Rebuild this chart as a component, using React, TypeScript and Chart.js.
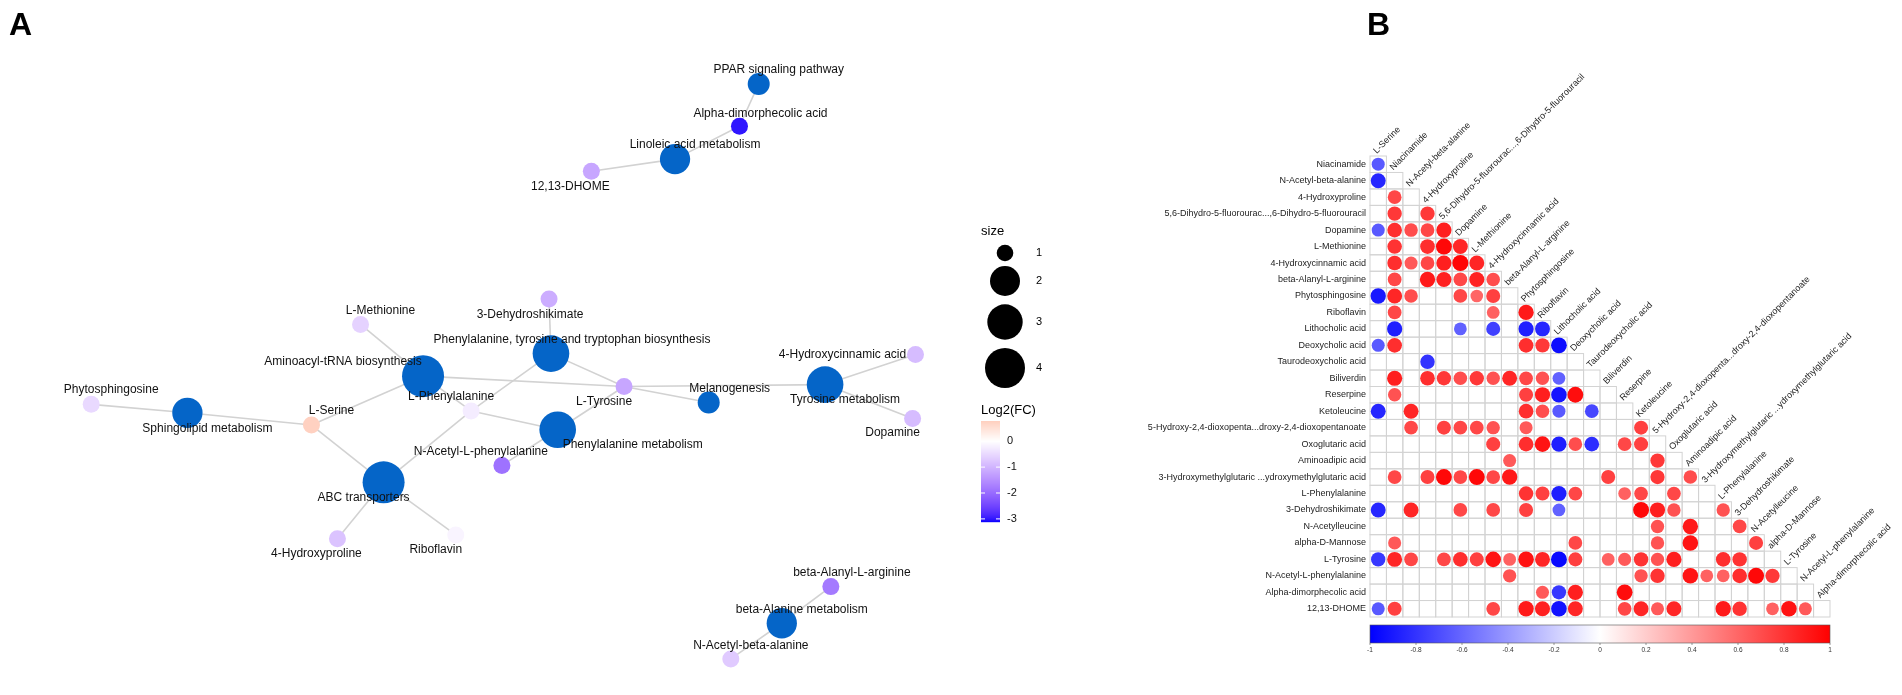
import React, { useEffect, useRef } from 'react';
import { Chart, registerables } from 'chart.js';
Chart.register(...registerables);

const FONT = '"Liberation Sans", Arial, Helvetica, sans-serif';

// ---------------- Panel A: network ----------------
const nodeNames = [
  'PPAR signaling pathway', 'Alpha-dimorphecolic acid', 'Linoleic acid metabolism', '12,13-DHOME',
  '3-Dehydroshikimate', 'L-Methionine', 'Phenylalanine, tyrosine and tryptophan biosynthesis',
  'Aminoacyl-tRNA biosynthesis', '4-Hydroxycinnamic acid', 'Phytosphingosine', 'Sphingolipid metabolism',
  'L-Serine', 'L-Phenylalanine', 'L-Tyrosine', 'Melanogenesis', 'Tyrosine metabolism', 'Dopamine',
  'Phenylalanine metabolism', 'N-Acetyl-L-phenylalanine', 'ABC transporters', '4-Hydroxyproline',
  'Riboflavin', 'beta-Alanyl-L-arginine', 'beta-Alanine metabolism', 'N-Acetyl-beta-alanine',
];
const nodeX = [767, 747, 680, 593, 549, 353, 551, 418, 930, 73, 173, 302, 468, 627, 715, 836, 927, 558, 500, 377, 329, 452, 842, 791, 738];
const nodeY = [67, 112, 147, 160, 296, 323, 354, 378, 355, 408, 417, 430, 415, 389, 406, 387, 423, 435, 473, 491, 551, 547, 602, 641, 679];
const nodeIsPathway = [true, false, true, false, false, false, true, true, false, false, true, false, false, false, true, true, false, true, false, true, false, false, false, true, false];
const nodeSize = [1, 1, 2, 1, 1, 1, 3, 4, 1, 1, 2, 1, 1, 1, 1, 3, 1, 3, 1, 4, 1, 1, 1, 2, 1];
const nodeLog2FC = [NaN, -3.0, NaN, -1.2, -1.1, -0.6, NaN, NaN, -0.9, -0.5, NaN, 0.75, -0.25, -1.2, NaN, NaN, -0.9, NaN, -1.9, NaN, -0.8, -0.15, -1.8, NaN, -0.7];
const edges: [string, string][] = [
  ['PPAR signaling pathway', 'Alpha-dimorphecolic acid'],
  ['Alpha-dimorphecolic acid', 'Linoleic acid metabolism'],
  ['Linoleic acid metabolism', '12,13-DHOME'],
  ['3-Dehydroshikimate', 'Phenylalanine, tyrosine and tryptophan biosynthesis'],
  ['L-Methionine', 'Aminoacyl-tRNA biosynthesis'],
  ['Aminoacyl-tRNA biosynthesis', 'L-Serine'],
  ['Aminoacyl-tRNA biosynthesis', 'L-Phenylalanine'],
  ['Aminoacyl-tRNA biosynthesis', 'L-Tyrosine'],
  ['Phenylalanine, tyrosine and tryptophan biosynthesis', 'L-Tyrosine'],
  ['Phenylalanine, tyrosine and tryptophan biosynthesis', 'L-Phenylalanine'],
  ['L-Tyrosine', 'Melanogenesis'],
  ['L-Tyrosine', 'Tyrosine metabolism'],
  ['L-Tyrosine', 'Phenylalanine metabolism'],
  ['Tyrosine metabolism', '4-Hydroxycinnamic acid'],
  ['Tyrosine metabolism', 'Dopamine'],
  ['Phytosphingosine', 'Sphingolipid metabolism'],
  ['Sphingolipid metabolism', 'L-Serine'],
  ['L-Serine', 'ABC transporters'],
  ['L-Phenylalanine', 'ABC transporters'],
  ['L-Phenylalanine', 'Phenylalanine metabolism'],
  ['Phenylalanine metabolism', 'N-Acetyl-L-phenylalanine'],
  ['ABC transporters', '4-Hydroxyproline'],
  ['ABC transporters', 'Riboflavin'],
  ['beta-Alanyl-L-arginine', 'beta-Alanine metabolism'],
  ['beta-Alanine metabolism', 'N-Acetyl-beta-alanine'],
];
const sizeLegendValues = [1, 2, 3, 4];
const fcTicks = [0, -1, -2, -3];
const FC_MIN = -3.12;
const FC_MAX = 0.78;

// label offsets (style)
const labelOffset: Record<string, [number, number]> = {
  'PPAR signaling pathway': [20, -14],
  'Alpha-dimorphecolic acid': [21, -13],
  'Linoleic acid metabolism': [20, -14],
  '12,13-DHOME': [-21, 15],
  '3-Dehydroshikimate': [-19, 16],
  'L-Methionine': [20, -14],
  'Phenylalanine, tyrosine and tryptophan biosynthesis': [21, -14],
  'Aminoacyl-tRNA biosynthesis': [-80, -14],
  '4-Hydroxycinnamic acid': [-73, 0],
  'Phytosphingosine': [20, -15],
  'Sphingolipid metabolism': [20, 16],
  'L-Serine': [20, -14],
  'L-Phenylalanine': [-20, -14],
  'L-Tyrosine': [-20, 15],
  'Melanogenesis': [21, -14],
  'Tyrosine metabolism': [20, 15],
  'Dopamine': [-20, 14],
  'Phenylalanine metabolism': [75, 15],
  'N-Acetyl-L-phenylalanine': [-21, -14],
  'ABC transporters': [-20, 15],
  '4-Hydroxyproline': [-21, 15],
  'Riboflavin': [-20, 15],
  'beta-Alanyl-L-arginine': [21, -14],
  'beta-Alanine metabolism': [20, -14],
  'N-Acetyl-beta-alanine': [20, -13],
};

// ---------------- Panel B: correlation matrix ----------------
const corrRowNames = [
  'Niacinamide', 'N-Acetyl-beta-alanine', '4-Hydroxyproline', '5,6-Dihydro-5-fluorourac...,6-Dihydro-5-fluorouracil',
  'Dopamine', 'L-Methionine', '4-Hydroxycinnamic acid', 'beta-Alanyl-L-arginine', 'Phytosphingosine', 'Riboflavin',
  'Lithocholic acid', 'Deoxycholic acid', 'Taurodeoxycholic acid', 'Biliverdin', 'Reserpine', 'Ketoleucine',
  '5-Hydroxy-2,4-dioxopenta...droxy-2,4-dioxopentanoate', 'Oxoglutaric acid', 'Aminoadipic acid',
  '3-Hydroxymethylglutaric ...ydroxymethylglutaric acid', 'L-Phenylalanine', '3-Dehydroshikimate', 'N-Acetylleucine',
  'alpha-D-Mannose', 'L-Tyrosine', 'N-Acetyl-L-phenylalanine', 'Alpha-dimorphecolic acid', '12,13-DHOME',
];
const corrColNames = [
  'L-Serine', 'Niacinamide', 'N-Acetyl-beta-alanine', '4-Hydroxyproline', '5,6-Dihydro-5-fluorourac...,6-Dihydro-5-fluorouracil',
  'Dopamine', 'L-Methionine', '4-Hydroxycinnamic acid', 'beta-Alanyl-L-arginine', 'Phytosphingosine', 'Riboflavin',
  'Lithocholic acid', 'Deoxycholic acid', 'Taurodeoxycholic acid', 'Biliverdin', 'Reserpine', 'Ketoleucine',
  '5-Hydroxy-2,4-dioxopenta...droxy-2,4-dioxopentanoate', 'Oxoglutaric acid', 'Aminoadipic acid',
  '3-Hydroxymethylglutaric ...ydroxymethylglutaric acid', 'L-Phenylalanine', '3-Dehydroshikimate', 'N-Acetylleucine',
  'alpha-D-Mannose', 'L-Tyrosine', 'N-Acetyl-L-phenylalanine', 'Alpha-dimorphecolic acid',
];
// per row: [column index, correlation]
const corrCells: [number, number][][] = [
  [[0, -0.65]],
  [[0, -0.85]],
  [[1, 0.72]],
  [[1, 0.78], [3, 0.78]],
  [[0, -0.65], [1, 0.82], [2, 0.7], [3, 0.72], [4, 0.88]],
  [[1, 0.8], [3, 0.82], [4, 0.97], [5, 0.85]],
  [[1, 0.82], [2, 0.65], [3, 0.72], [4, 0.88], [5, 0.98], [6, 0.85]],
  [[1, 0.72], [3, 0.9], [4, 0.87], [5, 0.72], [6, 0.87], [7, 0.7]],
  [[0, -0.9], [1, 0.85], [2, 0.7], [5, 0.72], [6, 0.6], [7, 0.75]],
  [[1, 0.72], [7, 0.62], [9, 0.9]],
  [[1, -0.88], [5, -0.62], [7, -0.75], [9, -0.88], [10, -0.85]],
  [[0, -0.65], [1, 0.82], [9, 0.82], [10, 0.78], [11, -0.95]],
  [[3, -0.8]],
  [[1, 0.88], [3, 0.82], [4, 0.78], [5, 0.7], [6, 0.78], [7, 0.68], [8, 0.85], [9, 0.72], [10, 0.68], [11, -0.62]],
  [[1, 0.68], [9, 0.75], [10, 0.88], [11, -0.92], [12, 0.95]],
  [[0, -0.85], [2, 0.85], [9, 0.82], [10, 0.7], [11, -0.65], [13, -0.72]],
  [[2, 0.72], [4, 0.75], [5, 0.72], [6, 0.72], [7, 0.68], [9, 0.65], [16, 0.75]],
  [[7, 0.75], [9, 0.82], [10, 0.92], [11, -0.88], [12, 0.7], [13, -0.82], [15, 0.72], [16, 0.75]],
  [[8, 0.65], [17, 0.78]],
  [[1, 0.72], [3, 0.75], [4, 0.97], [5, 0.72], [6, 0.97], [7, 0.72], [8, 0.9], [14, 0.75], [17, 0.78], [19, 0.7]],
  [[9, 0.8], [10, 0.75], [11, -0.88], [12, 0.72], [15, 0.62], [16, 0.72], [18, 0.72]],
  [[0, -0.85], [2, 0.85], [5, 0.72], [7, 0.72], [9, 0.75], [11, -0.62], [16, 0.97], [17, 0.88], [18, 0.68], [21, 0.68]],
  [[17, 0.68], [19, 0.9], [22, 0.72]],
  [[1, 0.65], [12, 0.72], [17, 0.68], [19, 0.92], [23, 0.75]],
  [[0, -0.78], [1, 0.85], [2, 0.72], [4, 0.72], [5, 0.82], [6, 0.75], [7, 0.92], [8, 0.62], [9, 0.93], [10, 0.85], [11, -0.97], [12, 0.75], [14, 0.62], [15, 0.65], [16, 0.8], [17, 0.68], [18, 0.88], [21, 0.82], [22, 0.8]],
  [[8, 0.68], [16, 0.68], [17, 0.8], [19, 0.92], [20, 0.62], [21, 0.62], [22, 0.82], [23, 0.97], [24, 0.78]],
  [[10, 0.65], [11, -0.78], [12, 0.88], [15, 0.95]],
  [[0, -0.65], [1, 0.75], [7, 0.72], [9, 0.9], [10, 0.87], [11, -0.93], [12, 0.85], [15, 0.72], [16, 0.85], [17, 0.65], [18, 0.85], [21, 0.9], [22, 0.8], [24, 0.62], [25, 0.93], [26, 0.65]],
];
const corrTicks = [-1, -0.8, -0.6, -0.4, -0.2, 0, 0.2, 0.4, 0.6, 0.8, 1];

// ---------------- colour helpers ----------------
function toLin(c: number) { c /= 255; return c <= 0.04045 ? c / 12.92 : Math.pow((c + 0.055) / 1.055, 2.4); }
function fromLin(c: number) {
  const v = c <= 0.0031308 ? 12.92 * c : 1.055 * Math.pow(c, 1 / 2.4) - 0.055;
  return Math.round(Math.max(0, Math.min(1, v)) * 255);
}
function rgbToLab(rgb: number[]) {
  const R = toLin(rgb[0]), G = toLin(rgb[1]), B = toLin(rgb[2]);
  const X = (0.4124 * R + 0.3576 * G + 0.1805 * B) / 0.95047;
  const Y = 0.2126 * R + 0.7152 * G + 0.0722 * B;
  const Z = (0.0193 * R + 0.1192 * G + 0.9505 * B) / 1.08883;
  const f = (t: number) => (t > 0.008856 ? Math.cbrt(t) : 7.787 * t + 16 / 116);
  const fx = f(X), fy = f(Y), fz = f(Z);
  return [116 * fy - 16, 500 * (fx - fy), 200 * (fy - fz)];
}
function labToRgb(lab: number[]) {
  const fy = (lab[0] + 16) / 116, fx = fy + lab[1] / 500, fz = fy - lab[2] / 200;
  const inv = (t: number) => (t * t * t > 0.008856 ? t * t * t : (t - 16 / 116) / 7.787);
  const X = inv(fx) * 0.95047, Y = inv(fy), Z = inv(fz) * 1.08883;
  const R = 3.2406 * X - 1.5372 * Y - 0.4986 * Z;
  const G = -0.9689 * X + 1.8758 * Y + 0.0415 * Z;
  const B = 0.0557 * X - 0.204 * Y + 1.057 * Z;
  return [fromLin(R), fromLin(G), fromLin(B)];
}
const LAB_W = rgbToLab([255, 255, 255]);
const LAB_B = rgbToLab([0, 0, 255]);
const LAB_R = rgbToLab([255, 0, 0]);
function fcColor(v: number) {
  const m = Math.max(Math.abs(FC_MIN), Math.abs(FC_MAX));
  const t = Math.max(-1, Math.min(1, v / m));
  const target = t < 0 ? LAB_B : LAB_R;
  const s = Math.abs(t);
  const lab = [0, 1, 2].map((k) => LAB_W[k] + (target[k] - LAB_W[k]) * s);
  const c = labToRgb(lab);
  return `rgb(${c[0]},${c[1]},${c[2]})`;
}
function corrColor(v: number) {
  const s = Math.min(1, Math.abs(v));
  const k = Math.round(255 * (1 - s));
  return v < 0 ? `rgb(${k},${k},255)` : `rgb(255,${k},${k})`;
}
const PATHWAY_COLOR = '#0565C8';

function nodeRadius(i: number) {
  return nodeIsPathway[i] ? 1 + 10 * Math.sqrt(nodeSize[i]) : 8.5;
}

export default function App() {
  const refA = useRef<HTMLCanvasElement>(null);
  const refB = useRef<HTMLCanvasElement>(null);

  useEffect(() => {
    // ---------- chart A ----------
    const idx = (n: string) => nodeNames.indexOf(n);
    const edgeSets = edges.map(([a, b]) => ({
      data: [{ x: nodeX[idx(a)], y: nodeY[idx(a)] }, { x: nodeX[idx(b)], y: nodeY[idx(b)] }],
      showLine: true,
      borderColor: '#d2d2d2',
      borderWidth: 1.6,
      pointRadius: 0,
      pointHoverRadius: 0,
      order: 2,
    }));
    const nodeSet = {
      data: nodeNames.map((_, i) => ({ x: nodeX[i], y: nodeY[i] })),
      pointRadius: (c: any) => nodeRadius(c.dataIndex),
      pointHoverRadius: (c: any) => nodeRadius(c.dataIndex),
      backgroundColor: (c: any) => (nodeIsPathway[c.dataIndex] ? PATHWAY_COLOR : fcColor(nodeLog2FC[c.dataIndex])),
      borderWidth: 0,
      order: 1,
    };
    const pluginA = {
      id: 'netLabels',
      afterDatasetsDraw(chart: any) {
        const { ctx, scales } = chart;
        const xs = scales.x, ys = scales.y;
        ctx.save();
        ctx.fillStyle = '#111';
        ctx.font = `12px ${FONT}`;
        ctx.textAlign = 'center';
        ctx.textBaseline = 'middle';
        nodeNames.forEach((n, i) => {
          const [dx, dy] = labelOffset[n] || [0, 0];
          ctx.fillText(n, xs.getPixelForValue(nodeX[i]) + dx, ys.getPixelForValue(nodeY[i]) + dy);
        });
        // panel letter
        ctx.textAlign = 'left';
        ctx.textBaseline = 'alphabetic';
        ctx.font = `bold 32px ${FONT}`;
        ctx.fillStyle = '#000';
        ctx.fillText('A', 9, 35);
        // size legend
        const lx = 981;
        ctx.font = `13px ${FONT}`;
        ctx.textBaseline = 'middle';
        ctx.fillText('size', lx, 231);
        const cy = [253, 281, 322, 368];
        const cr = [8.3, 15, 17.7, 20];
        ctx.font = `11px ${FONT}`;
        sizeLegendValues.forEach((v, i) => {
          ctx.beginPath();
          ctx.arc(1005, cy[i], cr[i], 0, Math.PI * 2);
          ctx.fillStyle = '#000';
          ctx.fill();
          ctx.fillText(String(v), 1036, cy[i]);
        });
        // Log2(FC) colourbar
        ctx.font = `13px ${FONT}`;
        ctx.fillText('Log2(FC)', lx, 410);
        const top = 421, bot = 522, bw = 19;
        const vy = (v: number) => top + ((FC_MAX - v) / (FC_MAX - FC_MIN)) * (bot - top);
        for (let y = top; y < bot; y += 1) {
          const v = FC_MAX - ((y - top + 0.5) / (bot - top)) * (FC_MAX - FC_MIN);
          ctx.fillStyle = fcColor(v);
          ctx.fillRect(lx, y, bw, 1.2);
        }
        ctx.strokeStyle = '#fff';
        ctx.lineWidth = 1;
        ctx.font = `11px ${FONT}`;
        fcTicks.forEach((t) => {
          const y = vy(t);
          ctx.beginPath();
          ctx.moveTo(lx, y); ctx.lineTo(lx + 4, y);
          ctx.moveTo(lx + bw - 4, y); ctx.lineTo(lx + bw, y);
          ctx.stroke();
          ctx.fillStyle = '#111';
          ctx.fillText(String(t), lx + bw + 7, y);
        });
        ctx.restore();
      },
    };
    const chartA = new Chart(refA.current as HTMLCanvasElement, {
      type: 'scatter',
      data: { datasets: [...edgeSets, nodeSet] as any },
      options: {
        animation: false,
        responsive: false,
        events: [],
        layout: { padding: 0 },
        plugins: { legend: { display: false }, tooltip: { enabled: false } },
        scales: {
          x: { type: 'linear', min: 0, max: 1100, display: false },
          y: { type: 'linear', min: 0, max: 695, reverse: true, display: false },
        },
      },
      plugins: [pluginA],
    });

    // ---------- chart B ----------
    const points: { x: string; y: string; v: number }[] = [];
    corrCells.forEach((row, i) =>
      row.forEach(([j, v]) => points.push({ x: corrColNames[j], y: corrRowNames[i], v })),
    );
    const pluginB = {
      id: 'corrDecor',
      beforeDatasetsDraw(chart: any) {
        const { ctx, scales } = chart;
        const xs = scales.x, ys = scales.y;
        const cw = xs.getPixelForValue(1) - xs.getPixelForValue(0);
        const ch = ys.getPixelForValue(1) - ys.getPixelForValue(0);
        ctx.save();
        ctx.strokeStyle = '#d3d3d3';
        ctx.lineWidth = 1;
        corrRowNames.forEach((_, i) => {
          for (let j = 0; j <= i; j++) {
            const cx = xs.getPixelForValue(j), cy = ys.getPixelForValue(i);
            ctx.strokeRect(cx - cw / 2, cy - ch / 2, cw, ch);
          }
        });
        ctx.restore();
      },
      afterDatasetsDraw(chart: any) {
        const { ctx, scales, chartArea } = chart;
        const xs = scales.x, ys = scales.y, cb = scales.cb;
        const ch = ys.getPixelForValue(1) - ys.getPixelForValue(0);
        ctx.save();
        ctx.fillStyle = '#222';
        ctx.font = `9px ${FONT}`;
        ctx.textAlign = 'left';
        ctx.textBaseline = 'alphabetic';
        corrColNames.forEach((n, j) => {
          const x = xs.getPixelForValue(j) - 1.5;
          const y = ys.getPixelForValue(j) - ch / 2 - 2;
          ctx.save();
          ctx.translate(x, y);
          ctx.rotate(-Math.PI / 4);
          ctx.fillText(n, 0, 0);
          ctx.restore();
        });
        // colour bar
        const x0 = cb.getPixelForValue(-1), x1 = cb.getPixelForValue(1);
        const top = chartArea.bottom + 8, h = 18;
        const g = ctx.createLinearGradient(x0, 0, x1, 0);
        g.addColorStop(0, '#0000ff');
        g.addColorStop(0.5, '#ffffff');
        g.addColorStop(1, '#ff0000');
        ctx.fillStyle = g;
        ctx.fillRect(x0, top, x1 - x0, h);
        ctx.strokeStyle = '#555';
        ctx.lineWidth = 0.6;
        ctx.strokeRect(x0, top, x1 - x0, h);
        ctx.fillStyle = '#333';
        ctx.font = `6.5px ${FONT}`;
        ctx.textAlign = 'center';
        ctx.textBaseline = 'top';
        corrTicks.forEach((t) => {
          const x = cb.getPixelForValue(t);
          ctx.beginPath();
          ctx.moveTo(x, top + h);
          ctx.lineTo(x, top + h + 2);
          ctx.stroke();
          ctx.fillText(String(t), x, top + h + 4);
        });
        // panel letter
        ctx.fillStyle = '#000';
        ctx.font = `bold 32px ${FONT}`;
        ctx.textAlign = 'left';
        ctx.textBaseline = 'alphabetic';
        ctx.fillText('B', chartArea.left - 3, 35);
        ctx.restore();
      },
    };
    const chartB = new Chart(refB.current as HTMLCanvasElement, {
      type: 'scatter',
      data: {
        datasets: [
          {
            data: points as any,
            pointRadius: (c: any) => 8.1 * Math.sqrt(Math.abs((c.raw as any).v)),
            pointHoverRadius: (c: any) => 8.1 * Math.sqrt(Math.abs((c.raw as any).v)),
            backgroundColor: (c: any) => corrColor((c.raw as any).v),
            borderWidth: 0,
          },
        ],
      },
      options: {
        animation: false,
        responsive: false,
        events: [],
        layout: { padding: { left: 0, top: 156, right: 72, bottom: 78 } },
        plugins: { legend: { display: false }, tooltip: { enabled: false } },
        scales: {
          x: { type: 'category', labels: corrColNames, offset: true, display: false },
          y: {
            type: 'category',
            labels: corrRowNames,
            offset: true,
            grid: { display: false, drawTicks: false },
            border: { display: false },
            ticks: { font: { size: 9, family: FONT }, color: '#222', padding: 4, autoSkip: false },
            afterFit: (s: any) => { s.width = 270; },
          },
          cb: { type: 'linear', axis: 'x', min: -1, max: 1, display: false },
        } as any,
      },
      plugins: [pluginB],
    });

    return () => {
      chartA.destroy();
      chartB.destroy();
    };
  }, []);

  return (
    <div style={{ position: 'absolute', left: 0, top: 0, width: 1902, height: 695, background: '#fff' }}>
      <canvas ref={refA} width={1100} height={695} style={{ position: 'absolute', left: 0, top: 0, width: 1100, height: 695 }} />
      <canvas ref={refB} width={802} height={695} style={{ position: 'absolute', left: 1100, top: 0, width: 802, height: 695 }} />
    </div>
  );
}
